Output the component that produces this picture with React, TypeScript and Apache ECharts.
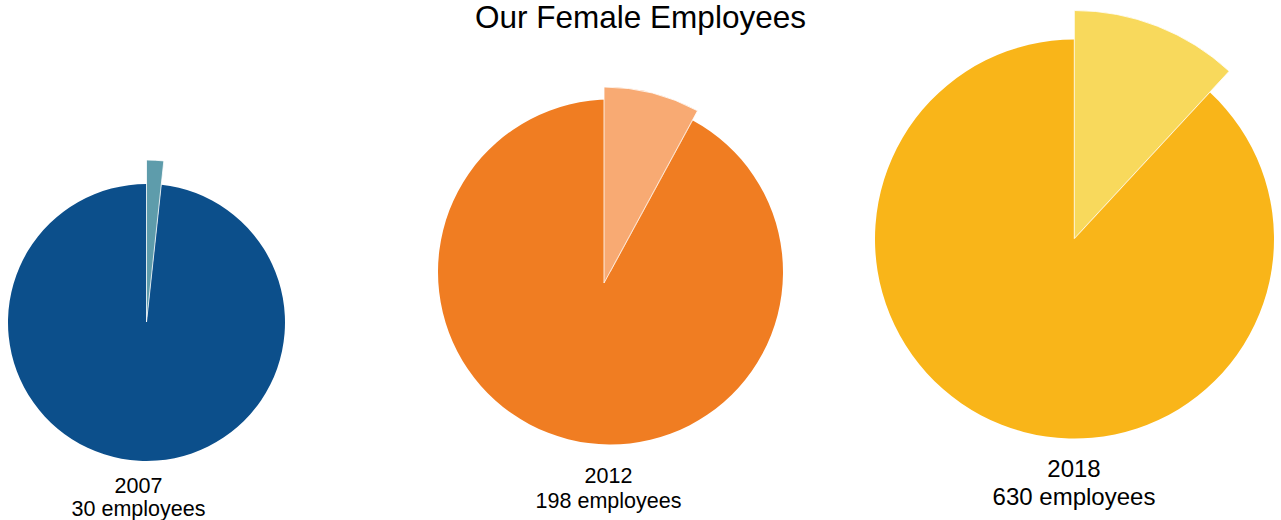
import React, { useEffect, useRef } from "react";
import * as echarts from "echarts";

const years = ["2007", "2012", "2018"];
const femaleEmployees = [30, 198, 630];
const maleEmployees = [1730, 2302, 4670];
const mainColors = ["#0c4f8b", "#f07d22", "#f9b519"];
const sliceColors = ["#5e9cab", "#f8aa73", "#f8d95c"];

// layout (pixels)
const mainCenters = [[146.5, 322.5], [610.5, 272], [1074.5, 239]];
const mainRadii = [138.5, 172.5, 199.5];
const sliceCenters = [[146.5, 322], [604, 283], [1074.3, 238.5]];
const sliceRadii = [162, 196, 228];
const labelX = [138.5, 608.5, 1074];
const labelY = [[486, 509], [476, 501], [468, 496]];
const labelSizes = [21.5, 21.5, 24];

const FONT = "'Liberation Sans', Arial, Helvetica, sans-serif";

export default function App() {
  const ref = useRef<HTMLDivElement>(null);
  useEffect(() => {
    if (!ref.current) return;
    const chart = echarts.init(ref.current, undefined, { renderer: "svg" });
    const series: any[] = [];
    years.forEach((y, i) => {
      series.push({
        type: "pie",
        name: y + " main",
        center: mainCenters[i],
        radius: [0, mainRadii[i]],
        startAngle: 90,
        clockwise: true,
        label: { show: false },
        labelLine: { show: false },
        silent: true,
        itemStyle: { borderWidth: 0 },
        data: [
          { name: "Female", value: femaleEmployees[i], itemStyle: { color: mainColors[i] } },
          { name: "Male", value: maleEmployees[i], itemStyle: { color: mainColors[i] } },
        ],
      });
      series.push({
        type: "pie",
        name: y + " female",
        center: sliceCenters[i],
        radius: [0, sliceRadii[i]],
        startAngle: 90,
        clockwise: true,
        label: { show: false },
        labelLine: { show: false },
        silent: true,
        data: [
          {
            name: "Female",
            value: femaleEmployees[i],
            itemStyle: { color: sliceColors[i], borderColor: "rgba(255,255,255,0.8)", borderWidth: 1 },
          },
          { name: "Male", value: maleEmployees[i], itemStyle: { color: "transparent" } },
        ],
      });
    });

    const graphic: any[] = [
      {
        type: "text",
        x: 640.5,
        y: 17,
        style: {
          text: "Our Female Employees",
          fill: "#000",
          font: `31.5px ${FONT}`,
          textAlign: "center",
          textVerticalAlign: "middle",
        },
      },
    ];
    years.forEach((y, i) => {
      graphic.push({
        type: "text",
        x: labelX[i],
        y: labelY[i][0],
        style: {
          text: y,
          fill: "#000",
          font: `${labelSizes[i]}px ${FONT}`,
          textAlign: "center",
          textVerticalAlign: "middle",
        },
      });
      graphic.push({
        type: "text",
        x: labelX[i],
        y: labelY[i][1],
        style: {
          text: `${femaleEmployees[i]} employees`,
          fill: "#000",
          font: `${labelSizes[i]}px ${FONT}`,
          textAlign: "center",
          textVerticalAlign: "middle",
        },
      });
    });

    chart.setOption({
      animation: false,
      backgroundColor: "#fff",
      series,
      graphic,
    });
    return () => chart.dispose();
  }, []);
  return (
    <div
      ref={ref}
      style={{ position: "fixed", left: 0, top: 0, width: 1281, height: 520 }}
    />
  );
}
